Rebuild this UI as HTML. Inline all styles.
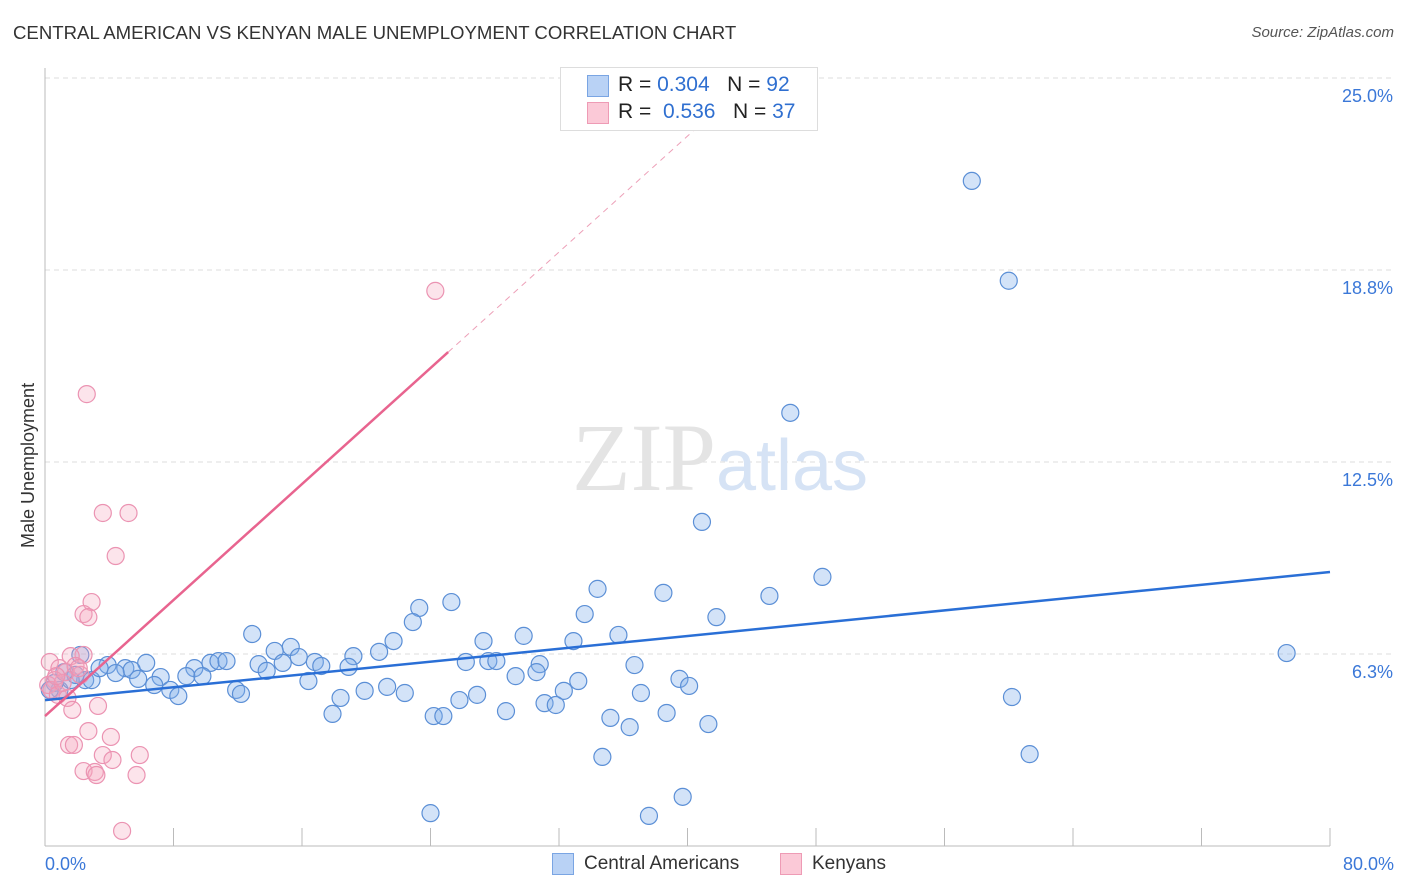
<!DOCTYPE html>
<html><head><meta charset="utf-8">
<style>
body{margin:0;background:#fff;font-family:"Liberation Sans",sans-serif;}
#wrap{position:relative;width:1406px;height:892px;overflow:hidden;}
.t{position:absolute;white-space:nowrap;}
</style></head>
<body>
<div id="wrap">
<div class="t" style="left:13px;top:22px;font-size:18.6px;color:#333;">CENTRAL AMERICAN VS KENYAN MALE UNEMPLOYMENT CORRELATION CHART</div>
<div class="t" style="right:12px;top:24px;font-size:15px;color:#555;font-style:italic;">Source: ZipAtlas.com</div>
<div class="t" style="left:18px;font-size:18px;color:#333;transform:rotate(-90deg);transform-origin:0 0;top:548px;">Male Unemployment</div>
<svg id="svg" width="1406" height="892" style="position:absolute;left:0;top:0;"></svg>
<div class="t" style="left:560px;top:67px;width:256px;height:62px;border:1px solid #ddd;background:#fff;">
 <div class="t" style="left:26px;top:7px;width:20px;height:20px;background:#b9d2f5;border:1px solid #7aa5e3;"></div>
 <div class="t" style="left:57px;top:5px;font-size:21px;color:#222;">R = <span style="color:#2f6fd0">0.304</span>&nbsp;&nbsp;&nbsp;N = <span style="color:#2f6fd0">92</span></div>
 <div class="t" style="left:26px;top:34px;width:20px;height:20px;background:#fbc9d7;border:1px solid #ee9bb5;"></div>
 <div class="t" style="left:57px;top:32px;font-size:21px;color:#222;">R = &nbsp;<span style="color:#2f6fd0">0.536</span>&nbsp;&nbsp;&nbsp;N = <span style="color:#2f6fd0">37</span></div>
</div>
<div class="t" style="left:552px;top:853px;width:20px;height:20px;background:#b9d2f5;border:1px solid #7aa5e3;"></div>
<div class="t" style="left:584px;top:853px;font-size:19px;color:#333;">Central Americans</div>
<div class="t" style="left:780px;top:853px;width:20px;height:20px;background:#fbc9d7;border:1px solid #ee9bb5;"></div>
<div class="t" style="left:812px;top:853px;font-size:19px;color:#333;">Kenyans</div>
</div>
<script>
const yTicks=[6.25,12.5,18.75,25];
const yTickLabels=["6.3%","12.5%","18.8%","25.0%"];
const xTicks=[0,8,16,24,32,40,48,56,64,72,80];
const blueX=[57.7,60.0,46.4,40.9,48.4,34.4,45.1,38.5,25.3,23.3,33.6,41.8,22.9,12.9,35.7,29.8,27.3,21.7,32.9,15.3,14.3,19.2,20.8,15.8,77.3,16.8,17.2,13.3,14.8,18.9,26.2,27.6,28.1,30.8,36.7,10.3,10.8,11.3,6.3,3.9,5.0,5.4,9.3,7.2,8.8,9.8,13.8,16.4,30.6,29.3,33.2,39.5,40.1,21.3,19.9,11.9,12.2,18.4,22.4,32.3,6.8,5.8,7.8,8.3,26.9,25.8,37.1,60.2,31.1,31.8,28.7,17.9,24.2,24.8,35.2,38.7,36.4,41.3,34.7,61.3,39.7,24.0,37.6,2.5,2.9,0.9,1.6,0.6,0.3,1.9,1.2,2.2,3.4,4.4];
const blueY=[21.65,18.4,14.1,10.55,8.76,8.37,8.14,8.24,7.94,7.75,7.55,7.45,7.29,6.9,6.87,6.84,6.67,6.67,6.67,6.48,6.35,6.18,6.32,6.15,6.28,5.99,5.86,5.92,5.96,5.83,5.99,6.02,6.02,5.92,5.89,5.96,6.02,6.02,5.96,5.89,5.79,5.73,5.79,5.5,5.53,5.53,5.7,5.37,5.66,5.53,5.37,5.44,5.21,5.18,5.05,5.08,4.95,4.82,4.98,5.05,5.24,5.44,5.08,4.88,4.92,4.75,4.98,4.85,4.65,4.59,4.39,4.3,4.23,4.23,4.17,4.33,3.87,3.97,2.9,2.99,1.6,1.07,0.98,5.4,5.4,5.08,5.4,5.31,5.08,5.57,5.66,6.22,5.79,5.63];
const pinkX=[24.3,2.6,3.6,5.2,4.4,2.9,2.4,2.7,2.4,1.6,0.3,0.9,1.9,1.3,2.2,0.6,0.2,0.4,0.8,1.4,1.7,3.3,2.7,4.1,1.5,1.8,3.6,5.9,4.2,2.4,3.1,3.2,5.7,4.8,2.1,1.1,0.7];
const pinkY=[18.07,14.71,10.84,10.84,9.44,7.94,7.55,7.45,6.22,6.18,5.99,5.79,5.86,5.66,5.57,5.4,5.24,5.08,4.92,4.82,4.43,4.56,3.74,3.55,3.29,3.29,2.96,2.96,2.8,2.44,2.41,2.31,2.31,0.49,5.79,5.31,5.53];
const blueTrend=[4.75,8.92];
const pinkTrend=[4.23,0.472];
const X=v=>45+v*16.0625, Y=v=>846-v*30.72;
const svg=document.getElementById('svg'),NS='http://www.w3.org/2000/svg';
function mk(tag,a){const e=document.createElementNS(NS,tag);for(const k in a)e.setAttribute(k,a[k]);svg.appendChild(e);return e;}
yTicks.forEach((t,i)=>{
 const g=mk('line',{x1:45,x2:1393,y1:Y(t),y2:Y(t),stroke:'#ddd','stroke-dasharray':'5,4'});
 
 
 const l=mk('text',{x:1393,y:Y(t)+24,'text-anchor':'end','font-size':18,fill:'#3b78d8','font-family':'Liberation Sans'});
 l.textContent=yTickLabels[i];
 
 
});
const wm=mk('text',{x:720,y:490,'text-anchor':'middle','font-size':96,fill:'#e4e4e4','font-family':'Liberation Serif'});
wm.innerHTML='ZIP<tspan fill="#d6e3f5" font-family="Liberation Sans" font-size="72">atlas</tspan>';


const ya=mk('line',{x1:45,x2:45,y1:68,y2:846,stroke:'#bbb'});


const xa=mk('line',{x1:45,x2:1330,y1:846,y2:846,stroke:'#bbb'});


xTicks.forEach(t=>{const e=mk('line',{x1:X(t),x2:X(t),y1:828,y2:846,stroke:'#bbb'});
 
 });
[[0,'start','0.0%'],[80,'end','80.0%']].forEach(([v,a,s])=>{const e=mk('text',{x:X(v)+(v?64:0),y:870,'text-anchor':a,'font-size':18,fill:'#3b78d8','font-family':'Liberation Sans'});e.textContent=s;
 
 });
blueX.forEach((x,i)=>{const c=mk('circle',{cx:X(x),cy:Y(blueY[i]),r:8.5,fill:'rgba(130,175,235,0.35)',stroke:'#5b8fd6','stroke-width':1.2});
 
 });
pinkX.forEach((x,i)=>{const c=mk('circle',{cx:X(x),cy:Y(pinkY[i]),r:8.5,fill:'rgba(245,165,190,0.3)',stroke:'#eb93b2','stroke-width':1.2});
 
 });
const bt=mk('line',{x1:X(0),y1:Y(blueTrend[0]),x2:X(80),y2:Y(blueTrend[1]),stroke:'#2a6fd6','stroke-width':2.5});


const pf=x=>pinkTrend[0]+pinkTrend[1]*x;
const pt=mk('line',{x1:X(0),y1:Y(pf(0)),x2:X(25.1),y2:Y(pf(25.1)),stroke:'#e8648f','stroke-width':2.5});


const pd=mk('line',{x1:X(25.1),y1:Y(pf(25.1)),x2:X(42),y2:Y(pf(42)),stroke:'#eda0b8','stroke-width':1,'stroke-dasharray':'6,5'});


</script>
</body></html>
